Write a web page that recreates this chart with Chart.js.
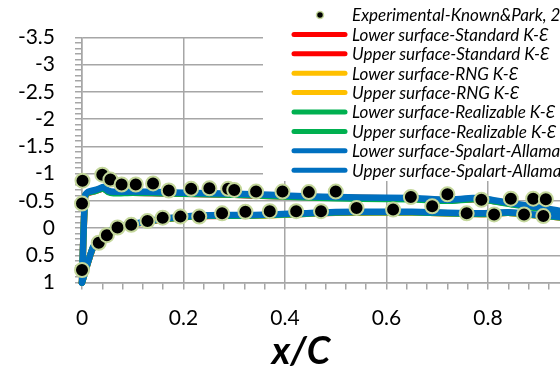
<!DOCTYPE html>
<html>
<head>
<meta charset="utf-8">
<script src="https://cdn.jsdelivr.net/npm/chart.js@4/dist/chart.umd.min.js"></script>
<style>
  html, body { margin: 0; padding: 0; overflow: hidden; background: #fff; }
  #wrap { width: 620px; height: 370px; }
</style>
</head>
<body>
<div id="wrap"><canvas id="cp"></canvas></div>
<script>
// ── Cp distribution along the chord ──────────────────────────────────────────
// experimental points (Known & Park) + CFD curves, upper and lower surface

const LEGEND_LABELS = [
    'Experimental-Known&Park, 2005',
    'Lower surface-Standard K-Ɛ',
    'Upper surface-Standard K-Ɛ',
    'Lower surface-RNG K-Ɛ',
    'Upper surface-RNG K-Ɛ',
    'Lower surface-Realizable K-Ɛ',
    'Upper surface-Realizable K-Ɛ',
    'Lower surface-Spalart-Allamaras',
    'Upper surface-Spalart-Allamaras',
];

const Y_TICKS = [-3.5, -3, -2.5, -2, -1.5, -1, -0.5, 0, 0.5, 1];
const X_TICKS = [0, 0.2, 0.4, 0.6, 0.8, 1];

// experimental data
const EXP_X = [0, 0, 0.001, 0.040, 0.056, 0.078, 0.106, 0.140, 0.171, 0.215, 0.251, 0.288, 0.300,
    0.343, 0.395, 0.447, 0.500, 0.648, 0.720, 0.787, 0.845, 0.889, 0.914,
    0.033, 0.049, 0.070, 0.097, 0.129, 0.159, 0.194, 0.231, 0.276, 0.322, 0.370, 0.422,
    0.471, 0.541, 0.613, 0.690, 0.758, 0.812, 0.871, 0.909];
const EXP_CP = [0.77, -0.45, -0.87, -0.98, -0.89, -0.80, -0.80, -0.82, -0.69, -0.72, -0.73, -0.72, -0.70,
    -0.67, -0.67, -0.66, -0.67, -0.57, -0.62, -0.52, -0.54, -0.54, -0.53,
    0.27, 0.13, -0.01, -0.06, -0.13, -0.19, -0.21, -0.21, -0.27, -0.30, -0.31, -0.31,
    -0.31, -0.37, -0.34, -0.40, -0.27, -0.25, -0.25, -0.22];

// upper surface curves
const UPPER_X   = [0, 0.006, 0.012, 0.026, 0.035, 0.042, 0.052, 0.062, 0.10, 0.15, 0.20, 0.25, 0.30, 0.37, 0.45, 0.55, 0.65, 0.72, 0.77, 0.80, 0.85, 0.90, 0.95, 1];
const SKE_UPPER = [1, -0.58, -0.64, -0.68, -0.71, -0.73, -0.67, -0.65, -0.65, -0.64, -0.63, -0.62, -0.61, -0.59, -0.57, -0.55, -0.54, -0.51, -0.53, -0.51, -0.44, -0.37, -0.29, -0.15];
const RNG_UPPER = [1, -0.59, -0.65, -0.69, -0.72, -0.74, -0.67, -0.65, -0.66, -0.65, -0.64, -0.63, -0.62, -0.60, -0.57, -0.55, -0.54, -0.51, -0.54, -0.52, -0.44, -0.37, -0.29, -0.15];
const RKE_UPPER = [1, -0.59, -0.65, -0.68, -0.71, -0.73, -0.66, -0.64, -0.65, -0.64, -0.63, -0.62, -0.61, -0.59, -0.56, -0.54, -0.53, -0.50, -0.53, -0.51, -0.43, -0.36, -0.28, -0.15];
const SA_UPPER  = [1, -0.60, -0.665, -0.70, -0.73, -0.755, -0.685, -0.665, -0.67, -0.66, -0.65, -0.64, -0.63, -0.61, -0.58, -0.56, -0.55, -0.52, -0.55, -0.53, -0.45, -0.38, -0.30, -0.15];

// lower surface curves
const LOWER_X   = [0, 0.022, 0.042, 0.062, 0.085, 0.121, 0.161, 0.20, 0.25, 0.34, 0.43, 0.50, 0.58, 0.65, 0.72, 0.79, 0.84, 0.90, 0.95, 1];
const SKE_LOWER = [1, 0.36, 0.17, 0.02, -0.04, -0.10, -0.16, -0.20, -0.22, -0.23, -0.26, -0.28, -0.29, -0.29, -0.27, -0.26, -0.28, -0.23, -0.19, -0.15];
const RNG_LOWER = [1, 0.35, 0.17, 0.02, -0.04, -0.10, -0.17, -0.20, -0.23, -0.23, -0.26, -0.29, -0.29, -0.29, -0.27, -0.26, -0.28, -0.23, -0.19, -0.15];
const RKE_LOWER = [1, 0.35, 0.17, 0.015, -0.045, -0.105, -0.165, -0.20, -0.225, -0.23, -0.26, -0.285, -0.29, -0.29, -0.27, -0.26, -0.28, -0.23, -0.19, -0.15];
const SA_LOWER  = [1, 0.345, 0.16, 0.01, -0.05, -0.11, -0.175, -0.21, -0.235, -0.24, -0.27, -0.295, -0.30, -0.30, -0.28, -0.27, -0.29, -0.24, -0.20, -0.15];

const RED = '#ff0000', YELLOW = '#ffc000', GREEN = '#00b050', BLUE = '#0070c0';
const GRID = '#a6a6a6';
const FONT = 'Lato, "Open Sans", sans-serif';

const pts = (xs, ys) => xs.map((x, i) => ({ x: x, y: ys[i] }));

function curve(label, xs, ys, color, order) {
    return {
        label: label,
        data: pts(xs, ys),
        showLine: true,
        borderColor: color,
        backgroundColor: color,
        borderWidth: 6.5,
        borderCapStyle: 'round',
        borderJoinStyle: 'round',
        pointRadius: 0,
        tension: 0.2,
        clip: false,
        order: order,
    };
}

const isMult = (v, step) => Math.abs(v / step - Math.round(v / step)) < 1e-6;

// legend drawn on top of the plot, like the original (white box, cut on the right)
const legendBox = {
    id: 'legendBox',
    afterDraw(chart) {
        const ctx = chart.ctx;
        const colors = [null, RED, RED, YELLOW, YELLOW, GREEN, GREEN, BLUE, BLUE];
        ctx.save();
        ctx.fillStyle = '#fff';
        ctx.fillRect(263, 0, chart.width - 263, 181);
        ctx.font = 'italic 17px ' + FONT;
        ctx.textBaseline = 'middle';
        ctx.textAlign = 'left';
        LEGEND_LABELS.forEach((txt, i) => {
            const y = 15 + i * 19.4;
            if (colors[i]) {
                ctx.strokeStyle = colors[i];
                ctx.lineWidth = 5;
                ctx.lineCap = 'round';
                ctx.beginPath();
                ctx.moveTo(294, y);
                ctx.lineTo(345, y);
                ctx.stroke();
            } else {
                ctx.fillStyle = '#000';
                ctx.strokeStyle = '#c4d79b';
                ctx.lineWidth = 1.5;
                ctx.beginPath();
                ctx.arc(320, y, 3.5, 0, Math.PI * 2);
                ctx.fill();
                ctx.stroke();
            }
            ctx.fillStyle = '#000';
            ctx.fillText(txt, 352, y + 1);
        });
        // axis title
        ctx.font = 'italic bold 38px ' + FONT;
        ctx.textAlign = 'center';
        ctx.fillText('x/C', 301, 352);
        ctx.restore();
    }
};

new Chart(document.getElementById('cp'), {
    type: 'scatter',
    data: {
        datasets: [
            {
                label: LEGEND_LABELS[0],
                data: pts(EXP_X, EXP_CP),
                pointRadius: 7,
                pointBorderWidth: 2,
                pointBackgroundColor: '#000',
                pointBorderColor: '#c4d79b',
                clip: false,
                order: 0,
            },
            curve(LEGEND_LABELS[1], LOWER_X, SKE_LOWER, RED, 4),
            curve(LEGEND_LABELS[2], UPPER_X, SKE_UPPER, RED, 4),
            curve(LEGEND_LABELS[3], LOWER_X, RNG_LOWER, YELLOW, 3),
            curve(LEGEND_LABELS[4], UPPER_X, RNG_UPPER, YELLOW, 3),
            curve(LEGEND_LABELS[5], LOWER_X, RKE_LOWER, GREEN, 2),
            curve(LEGEND_LABELS[6], UPPER_X, RKE_UPPER, GREEN, 2),
            curve(LEGEND_LABELS[7], LOWER_X, SA_LOWER, BLUE, 1),
            curve(LEGEND_LABELS[8], UPPER_X, SA_UPPER, BLUE, 1),
        ],
    },
    options: {
        responsive: true,
        maintainAspectRatio: false,
        animation: false,
        layout: { padding: { top: 37.5, right: 30.5, left: 0, bottom: 0 } },
        plugins: {
            legend: { display: false },
            tooltip: { enabled: false },
        },
        scales: {
            x: {
                type: 'linear',
                min: X_TICKS[0],
                max: X_TICKS[X_TICKS.length - 1],
                afterFit: s => { s.height = 87.5; },
                ticks: {
                    stepSize: 0.04,
                    autoSkip: false,
                    maxRotation: 0,
                    padding: 16,
                    color: '#000',
                    font: { family: FONT, size: 21 },
                    callback: v => X_TICKS.some(t => Math.abs(t - v) < 1e-6) ? String(+v.toFixed(1)) : '',
                },
                grid: {
                    color: c => isMult(c.tick.value, 0.2) ? GRID : 'rgba(0,0,0,0)',
                    lineWidth: 1.5,
                    tickColor: GRID,
                    tickLength: 7,
                },
                border: { color: GRID, width: 1.5 },
            },
            y: {
                type: 'linear',
                reverse: true,
                min: Y_TICKS[0],
                max: Y_TICKS[Y_TICKS.length - 1],
                afterFit: s => { s.width = 82; },
                ticks: {
                    stepSize: 0.1,
                    autoSkip: false,
                    padding: 20,
                    color: '#000',
                    font: { family: FONT, size: 21 },
                    callback: v => Y_TICKS.some(t => Math.abs(t - v) < 1e-6) ? String(+v.toFixed(1)) : '',
                },
                grid: {
                    color: c => isMult(c.tick.value, 0.5) ? GRID : 'rgba(0,0,0,0)',
                    lineWidth: 1.5,
                    tickColor: GRID,
                    tickLength: 7,
                },
                border: { color: GRID, width: 1.5 },
            },
        },
    },
    plugins: [legendBox],
});
</script>
</body>
</html>
